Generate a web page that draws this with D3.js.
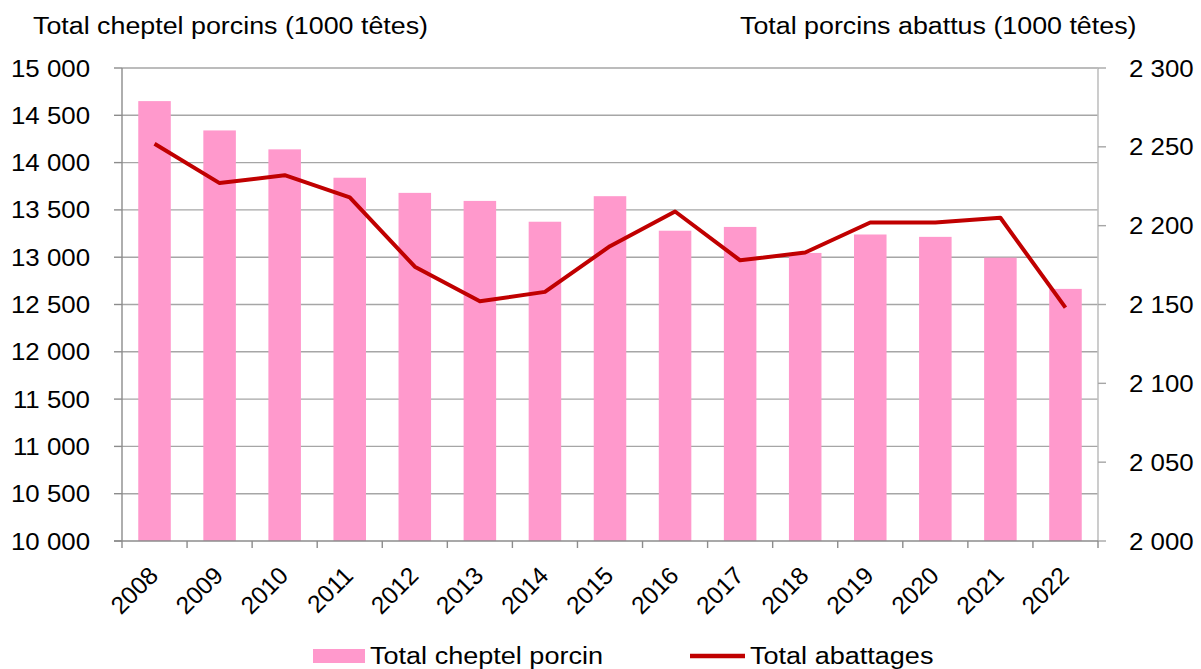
<!DOCTYPE html>
<html><head><meta charset="utf-8">
<script src="https://cdn.jsdelivr.net/npm/d3@7"></script>
<style>
html,body{margin:0;padding:0;background:#fff;}
svg text{font-family:"Liberation Sans",Arial,sans-serif;fill:#000;}
</style></head>
<body><svg id="c" width="1201" height="669"></svg>
<script>
const years = ["2008","2009","2010","2011","2012","2013","2014","2015","2016","2017","2018","2019","2020","2021","2022"];
const cheptel = [14650,14340,14140,13840,13680,13595,13375,13645,13280,13320,13045,13240,13215,12995,12665];
const abattages = [2252,2227,2232,2218,2174,2152,2158,2187,2209,2178,2183,2202,2202,2205,2148];
const leftTicks = [10000,10500,11000,11500,12000,12500,13000,13500,14000,14500,15000];
const rightTicks = [2000,2050,2100,2150,2200,2250,2300];
const leftTitle = "Total cheptel porcins (1000 têtes)";
const rightTitle = "Total porcins abattus (1000 têtes)";
const legendLabels = ["Total cheptel porcin","Total abattages"];

const svg = d3.select("#c");
const L = 122, R = 1098, T = 68, B = 541;
const SX = 1.1; // horizontal text stretch
const fmt = v => d3.format(",")(v).replace(/,/g, " ");

const x = d3.scaleBand().domain(years).range([L, R]).paddingInner(0.5).paddingOuter(0.25);
const step = x.step();
const yL = d3.scaleLinear().domain([10000, 15000]).range([B, T]);
const yR = d3.scaleLinear().domain([2000, 2300]).range([B, T]);

function txt(g, s, px, py, size, anchor, extra) {
  const t = g.append("text").attr("transform", `translate(${px},${py}) ${extra||""} scale(${SX},1)`)
    .attr("font-size", size).attr("text-anchor", anchor || "start").text(s);
  return t;
}

// gridlines
svg.append("g").selectAll("line").data(leftTicks.slice(1)).join("line")
  .attr("x1", L).attr("x2", R).attr("y1", d => yL(d)).attr("y2", d => yL(d))
  .attr("stroke", "#a6a6a6").attr("stroke-width", 1.4);

// bars
svg.append("g").selectAll("rect").data(years).join("rect")
  .attr("x", d => x(d)).attr("width", x.bandwidth())
  .attr("y", (d, i) => yL(cheptel[i])).attr("height", (d, i) => B - yL(cheptel[i]))
  .attr("fill", "#ff99cc");

// left axis
const gL = svg.append("g");
gL.append("line").attr("x1", L).attr("x2", L).attr("y1", T).attr("y2", B).attr("stroke", "#8c8c8c").attr("stroke-width", 1.4);
leftTicks.forEach(v => {
  gL.append("line").attr("x1", L - 8).attr("x2", L).attr("y1", yL(v)).attr("y2", yL(v)).attr("stroke", "#8c8c8c").attr("stroke-width", 1.4);
  txt(gL, fmt(v), 90, yL(v) + 8.5, 23.5, "end");
});
// right axis
const gR = svg.append("g");
gR.append("line").attr("x1", R).attr("x2", R).attr("y1", T).attr("y2", B).attr("stroke", "#c0c0c0").attr("stroke-width", 1.6);
rightTicks.forEach(v => {
  gR.append("line").attr("x1", R).attr("x2", R + 8).attr("y1", yR(v)).attr("y2", yR(v)).attr("stroke", "#a6a6a6").attr("stroke-width", 1.4);
  txt(gR, fmt(v), 1129, yR(v) + 8.5, 23.5, "start");
});
// bottom axis
const gB = svg.append("g");
gB.append("line").attr("x1", L - 8).attr("x2", R).attr("y1", B).attr("y2", B).attr("stroke", "#8c8c8c").attr("stroke-width", 1.4);
d3.range(years.length + 1).forEach(i => {
  const xx = L + i * step;
  gB.append("line").attr("x1", xx).attr("x2", xx).attr("y1", B).attr("y2", B + 7).attr("stroke", "#8c8c8c").attr("stroke-width", 1.4);
});
years.forEach(yv => {
  const cx = x(yv) + x.bandwidth() / 2;
  gB.append("text").attr("transform", `translate(${cx + 5},${B + 36}) rotate(-45)`)
    .attr("font-size", 24.5).attr("text-anchor", "end").text(yv);
});

// line
const line = d3.line().x((d, i) => x(years[i]) + x.bandwidth() / 2).y(d => yR(d));
svg.append("path").datum(abattages).attr("d", line).attr("fill", "none")
  .attr("stroke", "#c00000").attr("stroke-width", 4).attr("stroke-linejoin", "round");

// titles
txt(svg, leftTitle, 33, 34, 24.4, "start");
txt(svg, rightTitle, 740, 34, 24.4, "start");

// legend
svg.append("rect").attr("x", 313).attr("y", 649).attr("width", 52).attr("height", 14).attr("fill", "#ff99cc");
txt(svg, legendLabels[0], 370, 664, 24.6, "start");
svg.append("line").attr("x1", 690).attr("x2", 745).attr("y1", 656).attr("y2", 656).attr("stroke", "#c00000").attr("stroke-width", 4.5);
txt(svg, legendLabels[1], 750, 664, 24.6, "start");
</script></body></html>
